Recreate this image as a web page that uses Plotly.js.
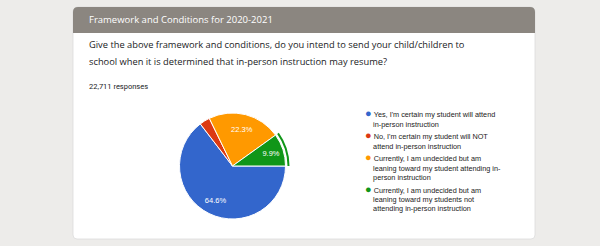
<!DOCTYPE html>
<html><head><meta charset="utf-8">
<script src="https://cdn.plot.ly/plotly-3.0.1.min.js"></script>
<style>html,body{margin:0;padding:0;background:#edecea}</style>
</head><body><div id="chart" style="width:600px;height:246px"></div>
<script>
// ---- data ----
const answerLines = [
  ["Yes, I'm certain my student will attend", "in-person instruction"],
  ["No, I'm certain my student will NOT", "attend in-person instruction"],
  ["Currently, I am undecided but am", "leaning toward my student attending in-", "person instruction"],
  ["Currently, I am undecided but am", "leaning toward my students not", "attending in-person instruction"]
];
const shares = [64.6, 3.2, 22.3, 9.9];
const colors = ['#3366cc', '#dc3912', '#ff9900', '#109618'];
const sectionTitle = 'Framework and Conditions for 2020-2021';
const questionLines = ['Give the above framework and conditions, do you intend to send your child/children to',
                       'school when it is determined that in-person instruction may resume?'];
const responsesText = '22,711 responses';
const highlighted = 3; // green slice shows the hover ring

// ---- helpers (layout in pixels) ----
const W = 600, H = 246;
const px = x => x / W, py = y => 1 - y / H;
function roundRect(x0, y0, x1, y1, rTop, rBot) {
  const X0 = px(x0), X1 = px(x1), Y0 = py(y0), Y1 = py(y1);
  const rxT = rTop / W, ryT = rTop / H, rxB = rBot / W, ryB = rBot / H;
  return `M${X0 + rxT},${Y0} L${X1 - rxT},${Y0} Q${X1},${Y0} ${X1},${Y0 - ryT} ` +
         `L${X1},${Y1 + ryB} Q${X1},${Y1} ${X1 - rxB},${Y1} L${X0 + rxB},${Y1} ` +
         `Q${X0},${Y1} ${X0},${Y1 + ryB} L${X0},${Y0 - ryT} Q${X0},${Y0} ${X0 + rxT},${Y0} Z`;
}
const NB = '\u00a0';
const bullet = c => `<span style="color:${c};font-size:11px">●</span>${NB}`;
const indent = NB.repeat(4);
const labels = answerLines.map(ls => ls.join(' '));
const legendNames = answerLines.map((ls, i) =>
  ls.map((l, j) => (j === 0 ? bullet(colors[i]) : indent) + l).join('<br>'));

const cx = 232.5, cy = 166, R = 53, ringIn = 55, ringOut = 57;
const pieDomain = { x: [px(cx - R), px(cx + R)], y: [1 - (cy + R) / H, 1 - (cy - R) / H] };

const pie = {
  type: 'pie', values: shares, labels: labels, sort: false, direction: 'clockwise', rotation: 90,
  marker: { colors: colors, line: { color: '#ffffff', width: 1 } },
  textinfo: 'none', showlegend: false, hoverinfo: 'skip', domain: pieDomain
};
// transparent overlay that only carries the percentage labels (placed out toward the rim)
const pieLabels = {
  type: 'pie', values: shares, labels: labels, sort: false, direction: 'clockwise', rotation: 90,
  hole: 0.44,
  marker: { colors: colors.map(() => 'rgba(0,0,0,0)'), line: { width: 0 } },
  text: shares.map(v => v >= 5 ? v.toFixed(1) + '%' : ''),
  textinfo: 'text', textposition: 'inside', insidetextorientation: 'horizontal',
  insidetextfont: { family: 'Liberation Sans, Arial, sans-serif', size: 7.5, color: '#ffffff' },
  showlegend: false, hoverinfo: 'skip', domain: pieDomain
};
const ring = {
  type: 'pie', values: shares, labels: labels, sort: false, direction: 'clockwise', rotation: 90,
  hole: ringIn / ringOut,
  marker: { colors: colors.map((c, i) => i === highlighted ? c : 'rgba(0,0,0,0)'), line: { width: 0 } },
  textinfo: 'none', showlegend: false, hoverinfo: 'skip',
  domain: { x: [px(cx - ringOut), px(cx + ringOut)], y: [1 - (cy + ringOut) / H, 1 - (cy - ringOut) / H] }
};
const legendTraces = legendNames.map((n, i) => ({
  type: 'scatter', mode: 'markers', x: [null], y: [null], name: n,
  marker: { symbol: 'circle', size: 1, color: 'rgba(0,0,0,0)' }, showlegend: true, hoverinfo: 'skip'
}));

const layout = {
  width: W, height: H,
  margin: { l: 0, r: 0, t: 0, b: 0 },
  paper_bgcolor: '#edecea', plot_bgcolor: 'rgba(0,0,0,0)',
  xaxis: { visible: false, domain: [0, 0.01] }, yaxis: { visible: false, domain: [0, 0.01] },
  showlegend: true,
  legend: {
    x: px(325), y: py(103), xanchor: 'left', yanchor: 'top',
    bgcolor: 'rgba(0,0,0,0)', traceorder: 'normal',
    font: { family: 'Liberation Sans, Arial, sans-serif', size: 7.3, color: '#222222' }
  },
  shapes: [
    { type: 'path', xref: 'paper', yref: 'paper', layer: 'below', path: roundRect(73, 7, 535, 239, 5, 4),
      fillcolor: '#ffffff', line: { color: '#dcdcdc', width: 0.8 } },
    { type: 'path', xref: 'paper', yref: 'paper', layer: 'below', path: roundRect(73, 7, 535, 33, 5, 0),
      fillcolor: '#8b8680', line: { width: 0 } }
  ],
  annotations: [
    { text: sectionTitle, xref: 'paper', yref: 'paper', x: px(87), y: py(19.5), xanchor: 'left', yanchor: 'middle',
      showarrow: false, font: { family: 'Open Sans, sans-serif', size: 9.5, color: '#ffffff' } },
    { text: questionLines[0], xref: 'paper', yref: 'paper', x: px(87), y: py(45), xanchor: 'left', yanchor: 'middle',
      showarrow: false, font: { family: 'Open Sans, sans-serif', size: 9.3, color: '#202124' } },
    { text: questionLines[1], xref: 'paper', yref: 'paper', x: px(87), y: py(62), xanchor: 'left', yanchor: 'middle',
      showarrow: false, font: { family: 'Open Sans, sans-serif', size: 9.3, color: '#202124' } },
    { text: responsesText, xref: 'paper', yref: 'paper', x: px(87), y: py(86), xanchor: 'left', yanchor: 'middle',
      showarrow: false, font: { family: 'Roboto, sans-serif', size: 7.5, color: '#202124' } }
  ]
};

Plotly.newPlot('chart', [pie, pieLabels, ring, ...legendTraces], layout, { displayModeBar: false, staticPlot: true });
</script></body></html>
